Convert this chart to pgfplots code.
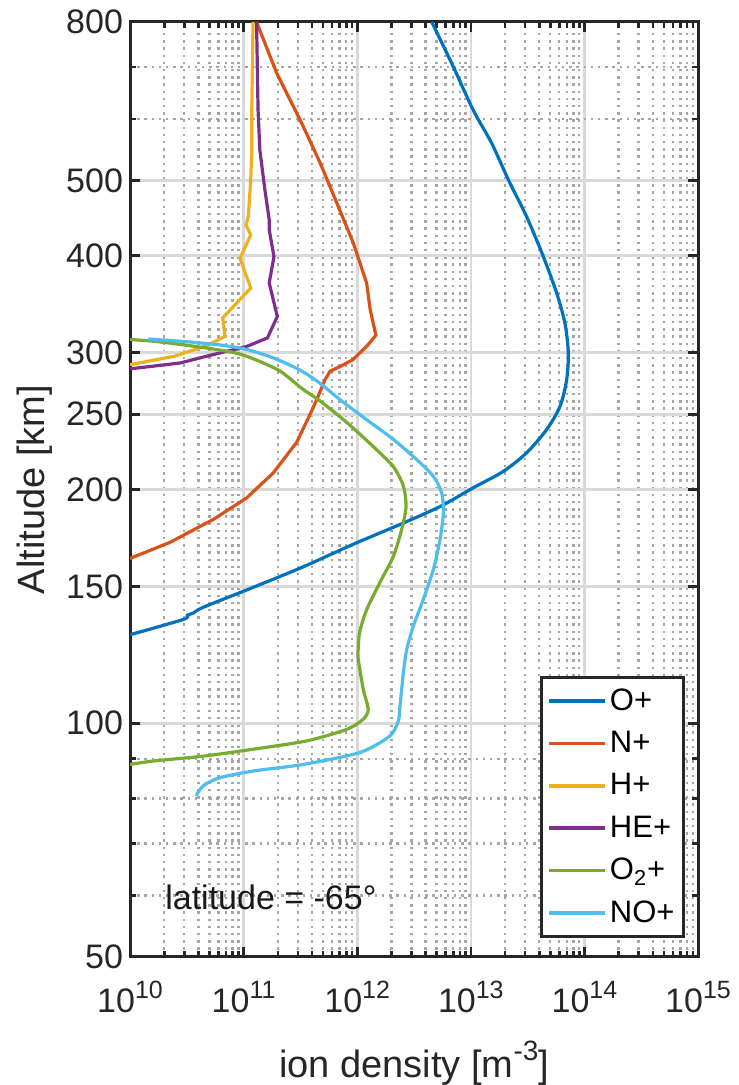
\documentclass[border=0pt]{standalone}
\usepackage{fontspec}
\setmainfont{Liberation Sans}
\usepackage{pgfplots}
\pgfplotsset{compat=1.18}
\definecolor{cOp}{RGB}{0,114,189}
\definecolor{cNp}{RGB}{217,83,25}
\definecolor{cHp}{RGB}{237,177,32}
\definecolor{cHEp}{RGB}{126,47,142}
\definecolor{cOtwo}{RGB}{119,172,48}
\definecolor{cNOp}{RGB}{77,190,238}
\newcommand{\ex}[1]{10\raisebox{0.44em}{\fontsize{12.5}{14}\selectfont #1}}
\begin{document}
\begin{tikzpicture}
\useasboundingbox (0,0) rectangle (369pt,542.5pt);
\begin{loglogaxis}[
  at={(65pt,64pt)}, anchor=south west,
  scale only axis, width=284pt, height=467.5pt,
  xmin=1e10, xmax=1e15, ymin=50, ymax=800,
  xtick={1e10,1e11,1e12,1e13,1e14,1e15},
  xticklabels={\ex{10},\ex{11},\ex{12},\ex{13},\ex{14},\ex{15}},
  minor xtick={2e10,3e10,4e10,5e10,6e10,7e10,8e10,9e10,
               2e11,3e11,4e11,5e11,6e11,7e11,8e11,9e11,
               2e12,3e12,4e12,5e12,6e12,7e12,8e12,9e12,
               2e13,3e13,4e13,5e13,6e13,7e13,8e13,9e13,
               2e14,3e14,4e14,5e14,6e14,7e14,8e14,9e14},
  ytick={50,100,150,200,250,300,400,500,800},
  yticklabels={50,100,150,200,250,300,400,500,800},
  minor ytick={60,70,80,90,600,700},
  grid=both,
  major grid style={draw=black!15, line width=1.3pt},
  minor grid style={draw=black!35, line width=1.2pt, dash pattern=on 1.2pt off 2.4pt},
  axis line style={line width=1.5pt, black!85},
  tick style={black!85, line width=1.3pt},
  major tick length=5pt, minor tick length=2.8pt,
  tick align=inside,
  ticklabel style={font=\fontsize{17}{20}\selectfont, text=black!85},
  xticklabel style={anchor=base, yshift=-28pt},
  xlabel={ion density [m\raisebox{0.44em}{\fontsize{14}{16}\selectfont -3}]},
  ylabel={Altitude [km]},
  label style={font=\fontsize{19}{22}\selectfont, text=black!85},
  xlabel style={at={(axis description cs:0.5,-0.1235)}, anchor=base, yshift=-2.5pt},
  ylabel style={at={(axis description cs:-0.1673,0.5)}, anchor=center},
  legend style={at={(axis description cs:0.977,0.0203)}, anchor=south east,
    draw=black!85, line width=1.4pt, fill=white,
    font=\fontsize{15.5}{18}\selectfont, text=black,
    inner xsep=3pt, inner ysep=4pt, row sep=6pt,
    nodes={inner sep=1.5pt}},
  legend cell align=left,
  legend image code/.code={\draw[#1,line width=1.8pt] (0pt,0pt) -- (28pt,0pt);},
  every axis plot/.append style={line width=1.6pt, no markers},
]
\addplot[cOp, smooth, tension=0.5] coordinates {
(4.53e12,800) (7.0e12,701) (1.05e13,616) (1.53e13,558) (2.14e13,501)
(3.1e13,449) (4.35e13,399) (5.70e13,358) (6.75e13,327) (7.21e13,300)
(6.98e13,277) (6.1e13,256) (4.66e13,239) (3.1e13,223) (1.93e13,211)
(1.05e13,201) (5.5e12,190.5) (2.53e12,181) (9.2e11,170) (3.34e11,159)
(1.21e11,149.6) (4.4e10,141) (3.6e10,138.6) (3.2e10,137.8) (2.93e10,136) (1.0e10,130)
};
\addlegendentry{O+}
\addplot[cNp] coordinates {
(1.30e11,800) (1.95e11,688) (3.24e11,593) (4.71e11,527) (6.6e11,468)
(9.2e11,416) (1.21e12,369) (1.30e12,341) (1.46e12,316) (1.24e12,307)
(9.2e11,294) (7.06e11,288) (5.77e11,284) (5.21e11,277) (4.4e11,261)
(3.85e11,250) (2.93e11,230) (1.82e11,210) (1.06e11,195) (5.4e10,183)
(2.25e10,171) (1.0e10,163)
};
\addlegendentry{N+}
\addplot[cHp] coordinates {
(1.21e11,800) (1.18e11,616) (1.18e11,547) (1.155e11,501) (1.10e11,449.5)
(1.05e11,438) (1.155e11,425.6) (9.3e10,397) (1.155e11,363.5) (6.55e10,332.6)
(6.86e10,315) (4.89e10,307) (2.49e10,297) (1.0e10,289.6)
};
\addlegendentry{H+}
\addplot[cHEp] coordinates {
(1.30e11,800) (1.34e11,616) (1.39e11,547) (1.54e11,486) (1.68e11,445)
(1.68e11,432) (1.85e11,399) (1.68e11,369) (1.98e11,334) (1.62e11,313.5)
(1.06e11,305.6) (5.41e10,298.4) (2.75e10,291) (1.0e10,286)
};
\addlegendentry{HE+}
\addplot[cOtwo, smooth, tension=0.45] coordinates {
(1.0e10,312) (1.77e10,310) (4.89e10,304) (9.6e10,298.4) (2.02e11,285)
(3.24e11,270) (4.71e11,260) (8.1e11,244) (1.39e12,227) (2.08e12,214)
(2.55e12,202) (2.69e12,190) (2.47e12,178) (2.08e12,164) (1.59e12,152)
(1.21e12,140) (1.05e12,131) (1.02e12,124.5) (1.02e12,121) (1.13e12,110.6)
(1.25e12,104.2) (1.13e12,101.2) (8.1e11,98.2) (3.59e11,94.9) (1.22e11,92.6)
(4.42e10,90.7) (1.6e10,89.4) (1.0e10,88.5)
};
\addlegendentry{O\textsubscript{2}+}
\addplot[cNOp, smooth, tension=0.45] coordinates {
(1.45e10,312.5) (3.15e10,310) (6.2e10,307) (1.06e11,303) (1.82e11,295.5)
(3.13e11,285) (4.71e11,274) (7.06e11,261) (1.21e12,246) (2.08e12,232)
(3.34e12,218.5) (4.68e12,208) (5.54e12,198) (5.73e12,186.6) (5.36e12,172.5)
(4.68e12,157.8) (3.82e12,144.4) (3.12e12,133.4) (2.73e12,124.5) (2.55e12,116.2)
(2.38e12,105.3) (2.30e12,100.7) (1.94e12,96.3) (1.06e12,91.7) (3.36e11,88.5)
(1.22e11,86.8) (6.2e10,85.1) (4.42e10,83.1) (3.81e10,80.6)
};
\addlegendentry{NO+}
\node[font=\fontsize{17}{20}\selectfont, text=black!90] at (axis description cs:0.248,0.064) {latitude = -65°};
\end{loglogaxis}
\end{tikzpicture}
\end{document}
